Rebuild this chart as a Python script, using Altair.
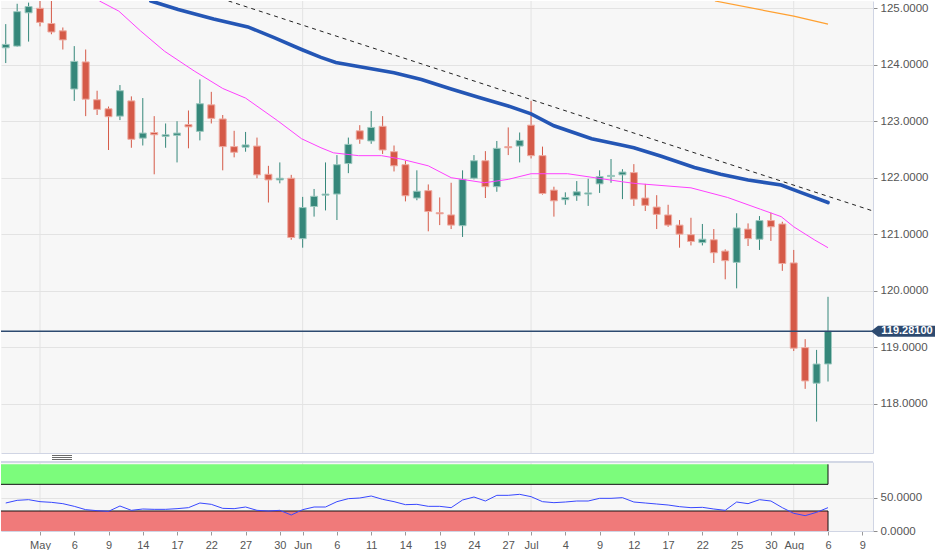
import altair as alt
import pandas as pd

# ---------------- data ----------------
day_index = list(range(73))
opens = [124.30, 124.33, 124.92, 125.00, 124.73, 124.60, 123.57, 124.05, 123.38, 123.22,
         123.09, 123.36, 122.70, 122.80, 122.73, 122.75, 122.94, 122.82, 123.29, 123.04,
         122.55, 122.54, 122.56, 122.06, 121.96, 121.99, 120.92, 121.49, 121.69, 121.71,
         122.25, 122.83, 122.65, 122.91, 122.46, 122.23, 121.64, 121.77, 121.38, 121.34,
         121.15, 121.99, 122.30, 121.84, 122.55, 122.56, 122.93, 122.39, 121.78, 121.61,
         121.68, 121.71, 121.89, 122.02, 122.05, 122.09, 121.64, 121.48, 121.34, 121.16,
         120.99, 120.85, 120.90, 120.70, 120.50, 121.09, 120.91, 121.24, 121.18, 120.49,
         118.99, 118.36, 118.70]
highs = [124.72, 125.08, 125.10, 125.20, 125.18, 124.66, 124.33, 124.27, 123.54, 123.26,
         123.64, 123.44, 123.41, 123.09, 122.96, 123.00, 123.19, 123.74, 123.52, 123.11,
         122.83, 122.81, 122.71, 122.21, 122.27, 122.05, 121.66, 121.80, 122.27, 122.40,
         122.71, 122.93, 123.18, 123.09, 122.57, 122.30, 122.13, 121.88, 121.65, 121.91,
         122.13, 122.40, 122.47, 122.65, 122.89, 122.80, 123.36, 122.55, 121.84, 121.74,
         121.94, 121.98, 122.13, 122.33, 122.15, 122.24, 121.89, 121.69, 121.52, 121.25,
         121.29, 121.18, 121.09, 120.73, 121.37, 121.19, 121.32, 121.38, 121.22, 120.72,
         119.14, 118.95, 119.89]
lows = [124.03, 124.32, 124.41, 124.68, 124.54, 124.27, 123.36, 123.09, 123.11, 122.49,
        123.02, 122.53, 122.57, 122.06, 122.53, 122.27, 122.52, 122.66, 122.96, 122.13,
        122.36, 122.46, 121.99, 121.56, 121.90, 120.90, 120.76, 121.31, 121.42, 121.25,
        122.08, 122.60, 122.60, 122.42, 122.11, 121.58, 121.60, 121.05, 121.16, 121.09,
        120.95, 121.97, 121.64, 121.75, 122.40, 122.27, 122.34, 121.70, 121.31, 121.52,
        121.59, 121.50, 121.73, 121.91, 121.62, 121.50, 121.41, 121.09, 121.13, 120.76,
        120.80, 120.80, 120.49, 120.20, 120.04, 120.79, 120.72, 120.88, 120.35, 118.93,
        118.26, 117.68, 118.39]
closes = [124.36, 124.94, 125.03, 124.75, 124.58, 124.44, 124.06, 123.39, 123.21, 123.08,
          123.54, 122.68, 122.79, 122.76, 122.76, 122.79, 122.90, 123.31, 123.05, 122.55,
          122.45, 122.58, 122.05, 121.96, 121.99, 120.94, 121.47, 121.67, 121.71, 122.23,
          122.59, 122.68, 122.89, 122.49, 122.21, 121.68, 121.76, 121.40, 121.36, 121.16,
          121.97, 122.30, 121.84, 122.52, 122.53, 122.66, 122.39, 121.72, 121.59, 121.65,
          121.75, 121.73, 122.02, 122.04, 122.10, 121.62, 121.51, 121.35, 121.16, 121.00,
          120.87, 120.91, 120.67, 120.53, 121.11, 120.92, 121.24, 121.13, 120.48, 118.98,
          118.40, 118.70, 119.28]
rsi_values = [42, 46, 47, 44, 43, 41, 37, 32, 30.5, 29.5,
              37.5, 31, 33, 32.5, 32.5, 33.5, 35, 42, 40, 34,
              33.5, 36, 31, 30, 31, 24, 32, 36, 36, 44,
              48.5, 49.5, 52.5, 47.5, 44, 39.5, 40, 37, 37, 35,
              46.5, 51, 45, 53.5, 53.5, 55, 51.5, 44, 42.5, 43.5,
              45, 45, 49, 49, 50, 43.5, 42, 40.5, 39, 36.5,
              35, 35.5, 33, 31, 43.5, 41, 47, 45, 35, 26.5,
              23, 28, 35]

ma_fast_idx = [8.2, 9.9, 11.8, 13.9, 16.5, 19.0, 21.0, 23.8, 25.9, 27.6, 28.7, 30.9, 32.9,
               34.6, 37.0, 39.0, 41.9, 44.0, 46.0, 49.2, 53.9, 55.0, 60.0, 63.2, 66.1,
               67.9, 69.0, 70.8, 72.0]
ma_fast_val = [125.13, 124.95, 124.60, 124.24, 123.89, 123.58, 123.41, 123.01, 122.69, 122.53,
               122.44, 122.39, 122.39, 122.33, 122.21, 122.00, 121.91, 121.97, 122.07, 122.07,
               121.93, 121.90, 121.82, 121.65, 121.44, 121.31, 121.13, 120.90, 120.76]
ma_mid_idx = [12.7, 15.1, 18.2, 21.2, 23.5, 25.9, 27.6, 28.9, 34.0, 36.4, 39.0, 41.6, 44.0,
              46.0, 48.0, 51.3, 53.9, 55.0, 57.4, 60.3, 62.6, 65.0, 67.9, 69.6, 72.0]
ma_mid_val = [125.13, 124.98, 124.81, 124.67, 124.48, 124.27, 124.13, 124.04, 123.86, 123.74,
              123.57, 123.41, 123.27, 123.13, 122.92, 122.69, 122.58, 122.53, 122.38, 122.18,
              122.06, 121.96, 121.87, 121.74, 121.56]
ma_slow_idx = [62.1, 69.0, 72.0]
ma_slow_val = [125.13, 124.86, 124.72]
trend_idx = [19.5, 75.94]
trend_val = [125.13, 121.41]

tick_idx = [3, 6, 9, 12, 15, 18, 21, 24, 26, 29, 32, 35, 38, 41, 44, 46, 49, 52, 55,
            58, 61, 64, 67, 69, 72, 75]
tick_labels = ["May", "6", "9", "14", "17", "22", "27", "30", "Jun", "6", "11", "14", "19",
               "24", "27", "Jul", "4", "9", "12", "17", "22", "25", "30", "Aug", "6", "9"]
month_idx = [3, 26, 46, 69]
price_ticks = [118, 119, 120, 121, 122, 123, 124, 125]
rsi_ticks = [0, 50]
rsi_bands_lo = [70, 0]
rsi_bands_hi = [100, 30]
rsi_bands_edge = [70, 30]
rsi_bands_name = ["overbought", "oversold"]
last_price = 119.281

# ---------------- styling ----------------
FONT = "Liberation Sans"
GREEN = "#35877a"
RED = "#d55a48"
GREEN_EDGE = "#9cc8bf"
RED_EDGE = "#eeaca2"
NAVY = "#2d4a70"
GRID = "#e3e3e3"
FRAME = "#d0d5e4"
W = 872
H_MAIN = 452
H_RSI = 69

X0, X1 = -0.415, 75.94
xs = alt.Scale(domain=[X0, X1], nice=False, zero=False, padding=0)
ys = alt.Scale(domain=[117.124, 125.129], nice=False, zero=False, padding=0)
rs = alt.Scale(domain=[0, 103.5], nice=False, zero=False, padding=0)

xa_main = alt.Axis(labels=False, ticks=False, grid=False, domainColor=FRAME, title=None)
ya_main = alt.Axis(orient="right", values=price_ticks, format=".4f", grid=True, gridColor=GRID,
                   domainColor=FRAME, tickColor="#8d8d8d", tickSize=4, labelPadding=3,
                   labelColor="#555555", labelFont=FONT, labelFontSize=11.5, title=None)

label_expr = "[" + ",".join("'%s'" % t for t in tick_labels) + "][indexof([" + \
    ",".join(str(v) for v in tick_idx) + "], datum.value)]"
xa_rsi = alt.Axis(values=tick_idx, labelExpr=label_expr, grid=False, domainColor=FRAME,
                  tickColor="#9a9a9a", tickSize=4, labelPadding=4, labelColor="#555555",
                  labelFont=FONT, labelFontSize=11, labelFlush=False, labelOverlap=False,
                  title=None)
ya_rsi = alt.Axis(orient="right", values=rsi_ticks, format=".4f", grid=True, gridColor=GRID,
                  domainColor=FRAME, tickColor="#8d8d8d", tickSize=4, labelPadding=3,
                  labelColor="#555555", labelFont=FONT, labelFontSize=11.5, title=None)

# ---------------- tables ----------------
candles = pd.DataFrame({"i": day_index, "o": opens, "h": highs, "l": lows, "c": closes})
months = pd.DataFrame({"m": month_idx})
fast = pd.DataFrame({"i": ma_fast_idx, "v": ma_fast_val})
mid = pd.DataFrame({"i": ma_mid_idx, "v": ma_mid_val})
slow = pd.DataFrame({"i": ma_slow_idx, "v": ma_slow_val})
trend = pd.DataFrame({"i": trend_idx, "v": trend_val})
last = pd.DataFrame({"p": [last_price], "lbl": ["%.5f" % last_price]})
rsi = pd.DataFrame({"i": day_index, "r": rsi_values})
bands = pd.DataFrame({"name": rsi_bands_name, "lo": rsi_bands_lo, "hi": rsi_bands_hi,
                      "edge": rsi_bands_edge, "x0": [X0 - 1] * 2,
                      "x1": [day_index[-1]] * 2})

up = "datum.c >= datum.o"

def xq(f):
    return alt.X(f, type="quantitative", scale=xs, axis=xa_main)

def yq(f):
    return alt.Y(f, type="quantitative", scale=ys, axis=ya_main)

month_grid = alt.Chart(months).mark_rule(color=GRID, strokeWidth=1).encode(x=xq("m"))
wicks = alt.Chart(candles).mark_rule(strokeWidth=1, clip=True).encode(
    x=xq("i"), y=yq("l"), y2="h",
    color=alt.condition(up, alt.value(GREEN), alt.value(RED)))
bodies = alt.Chart(candles).mark_bar(size=7, strokeWidth=1, clip=True).encode(
    x=xq("i"), y=yq("o"), y2="c",
    fill=alt.condition(up, alt.value(GREEN), alt.value(RED)),
    stroke=alt.condition(up, alt.value(GREEN_EDGE), alt.value(RED_EDGE)))
fast_line = alt.Chart(fast).mark_line(color="#ff40ff", strokeWidth=1, clip=True).encode(
    x=xq("i"), y=yq("v"))
mid_line = alt.Chart(mid).mark_line(color="#2456b5", strokeWidth=3.6, clip=True,
                                    strokeCap="round").encode(x=xq("i"), y=yq("v"))
slow_line = alt.Chart(slow).mark_line(color="#ffa030", strokeWidth=1.2, clip=True).encode(
    x=xq("i"), y=yq("v"))
trend_line = alt.Chart(trend).mark_line(color="#222222", strokeWidth=1, strokeDash=[4, 4],
                                        clip=True).encode(x=xq("i"), y=yq("v"))
price_rule = alt.Chart(last).mark_rule(color=NAVY, strokeWidth=1.5).encode(y=yq("p"))
tag_shape = "M-1,0L0.27,-1L10.64,-1L10.64,1L0.27,1Z"
price_tag = alt.Chart(last).mark_point(shape=tag_shape, filled=True, size=121, color=NAVY,
                                       opacity=1, strokeWidth=0).encode(
    x=alt.value(875.5), y=yq("p"))
price_text = alt.Chart(last).mark_text(color="white", fontWeight="bold", fontSize=11,
                                       font=FONT, align="center", baseline="middle").encode(
    x=alt.value(906), y=yq("p"), text="lbl:N")

main = alt.layer(month_grid, wicks, bodies, fast_line, mid_line, slow_line, trend_line,
                 price_rule, price_tag, price_text).properties(width=W, height=H_MAIN)

def xr(f):
    return alt.X(f, type="quantitative", scale=xs, axis=xa_rsi)

def yr(f):
    return alt.Y(f, type="quantitative", scale=rs, axis=ya_rsi)

r_month = alt.Chart(months).mark_rule(color=GRID, strokeWidth=1).encode(x=xr("m"))
r_bands = alt.Chart(bands).mark_rect(clip=True).encode(
    x=xr("x0"), x2="x1", y=yr("lo"), y2="hi",
    fill=alt.Fill("name:N", scale=alt.Scale(domain=rsi_bands_name,
                                             range=["#7cfc7c", "#f07a7a"]), legend=None))
r_edge_h = alt.Chart(bands).mark_rule(color="#111111", strokeWidth=1, clip=True).encode(
    x=xr("x0"), x2="x1", y=yr("edge"))
r_edge_v = alt.Chart(bands).mark_rule(color="#111111", strokeWidth=1, clip=True).encode(
    x=xr("x1"), y=yr("lo"), y2="hi")
r_line = alt.Chart(rsi).mark_line(color="#3848ff", strokeWidth=1, clip=True).encode(
    x=xr("i"), y=yr("r"))
r_top = alt.Chart(months).mark_rule(color=FRAME, strokeWidth=1).encode(
    x=alt.value(0), x2=alt.value(W), y=alt.value(0))
grip = [alt.Chart(months).mark_rule(color="#6a6a6a", strokeWidth=0.9).encode(
    x=alt.value(51), x2=alt.value(71), y=alt.value(dy)) for dy in (-6.5, -4.5, -2.5)]

rsi_chart = alt.layer(r_month, r_bands, r_edge_h, r_edge_v, r_line, r_top, *grip).properties(
    width=W, height=H_RSI)

chart = alt.vconcat(main, rsi_chart, spacing=9, bounds="flush").properties(
    padding={"left": 0, "top": 0, "right": 0, "bottom": 0},
    background="white",
).configure_view(stroke=None, fill="#f7f7f7")

chart.save("out.html", embed_options={"renderer": "svg", "actions": False})
